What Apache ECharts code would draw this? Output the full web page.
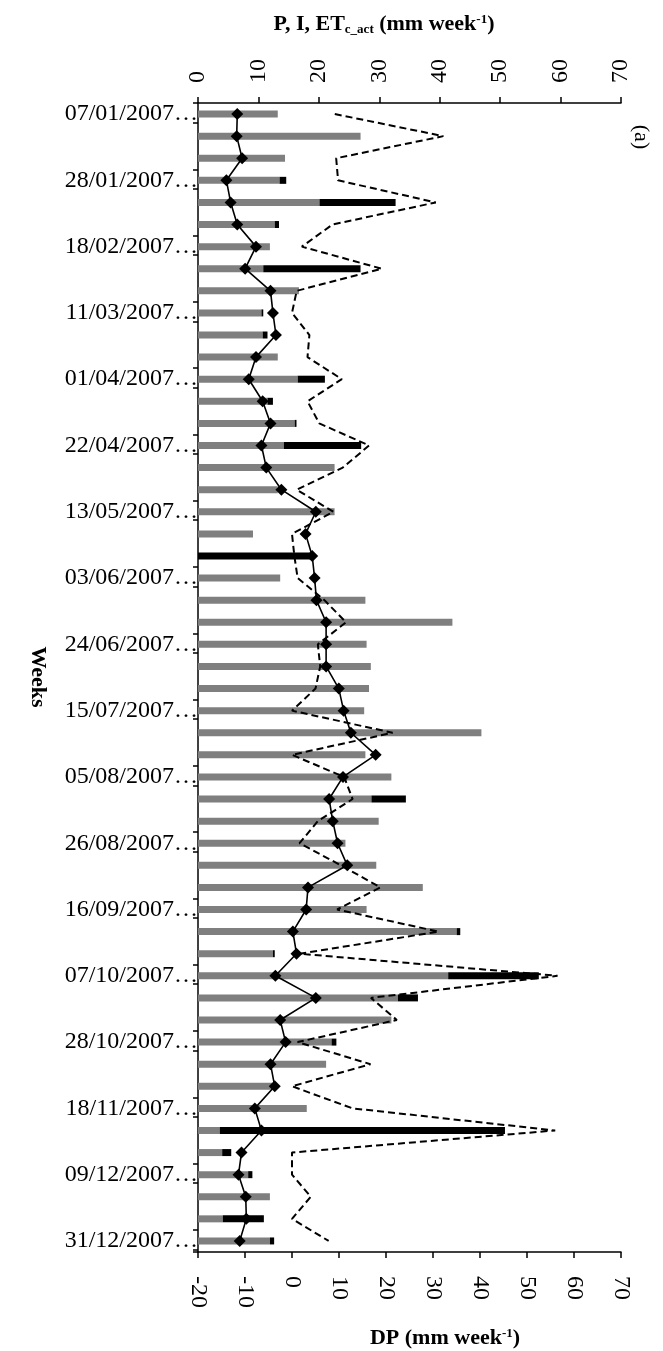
<!DOCTYPE html>
<html><head><meta charset="utf-8">
<script src="https://cdn.jsdelivr.net/npm/echarts@6/dist/echarts.min.js"></script>
<style>html,body{margin:0;padding:0;background:#fff}#c{width:663px;height:1351px}</style>
</head><body><div id="c"></div>
<script>
const weeks = ['07/01/2007','14/01/2007','21/01/2007','28/01/2007','04/02/2007','11/02/2007','18/02/2007','25/02/2007','04/03/2007','11/03/2007','18/03/2007','25/03/2007','01/04/2007','08/04/2007','15/04/2007','22/04/2007','29/04/2007','06/05/2007','13/05/2007','20/05/2007','27/05/2007','03/06/2007','10/06/2007','17/06/2007','24/06/2007','01/07/2007','08/07/2007','15/07/2007','22/07/2007','29/07/2007','05/08/2007','12/08/2007','19/08/2007','26/08/2007','02/09/2007','09/09/2007','16/09/2007','23/09/2007','30/09/2007','07/10/2007','14/10/2007','21/10/2007','28/10/2007','04/11/2007','11/11/2007','18/11/2007','25/11/2007','02/12/2007','09/12/2007','16/12/2007','23/12/2007','31/12/2007'];
// I (grey bars, top axis)
const irrigation = [13.2,26.9,14.4,13.5,20.1,12.7,11.9,10.8,16.7,10.5,10.7,13.2,16.5,11.5,16.0,14.2,22.6,13.2,22.6,9.1,0,13.6,27.7,42.1,27.9,28.6,28.3,27.5,46.9,27.7,32.0,28.7,29.9,24.4,29.5,37.2,27.9,42.8,12.4,41.4,33.1,32.0,22.1,21.2,12.4,18.0,3.6,4.0,8.3,11.9,4.1,11.9];
// P (black bars, stacked, top axis)
const precipitation = [0,0,0,1.1,12.6,0.7,0,16.1,0,0.3,0.8,0,4.5,0.9,0.3,12.8,0,0,0,0,18.9,0,0,0,0,0,0,0,0,0,0,5.7,0,0,0,0,0,0.6,0.3,15.0,3.3,0,0.8,0,0,0,47.2,1.5,0.7,0,6.8,0.7];
// ETc_act (solid line with diamonds, top axis)
const etcAct = [6.5,6.4,7.3,4.7,5.4,6.5,9.6,7.8,12.0,12.4,12.9,9.6,8.4,10.7,12.0,10.5,11.3,13.8,19.5,17.8,18.9,19.3,19.6,21.2,21.2,21.2,23.3,24.1,25.3,29.4,24.0,21.7,22.3,23.1,24.7,18.2,17.9,15.7,16.3,12.8,19.5,13.6,14.5,12.0,12.7,9.4,10.5,7.2,6.7,7.9,8.0,6.9];
// DP (dashed line, bottom axis)
const deepPercolation = [9.1,32.2,9.4,9.8,30.6,8.6,2.1,19.1,1.0,0,3.7,3.3,10.6,3.3,5.8,16.4,10.8,1.0,8.8,0,0.5,1.2,6.9,11.5,5.5,6.0,5.0,0,21.4,0,11.1,12.9,5.5,1.6,10.4,18.8,9.6,31.2,1.6,56.5,16.8,22.3,1.2,16.7,0,12.9,56.0,0,0,4.0,0,7.8];

const FONT = 'Liberation Serif';
const chart = echarts.init(document.getElementById('c'), null, {renderer: 'canvas'});
const axisLineStyle = {color: '#000', width: 1.5};
const extraTicks = Array.from({length: 18}, (_, k) => 3 * k + 0.88);

chart.setOption({
  animation: false,
  backgroundColor: '#fff',
  grid: {left: 198, right: 42, top: 103, bottom: 99, containLabel: false},
  xAxis: [
    {type: 'value', position: 'top', min: 0, max: 70, interval: 10,
     axisLine: {show: true, onZero: false, lineStyle: axisLineStyle},
     axisTick: {show: true, inside: false, length: 6, lineStyle: axisLineStyle},
     axisLabel: {rotate: -90, margin: 20, fontFamily: FONT, fontSize: 24, color: '#000'},
     splitLine: {show: false}},
    {type: 'value', position: 'bottom', min: -20, max: 70, interval: 10,
     axisLine: {show: true, onZero: false, lineStyle: axisLineStyle},
     axisTick: {show: true, inside: false, length: 6, lineStyle: axisLineStyle},
     axisLabel: {rotate: -90, margin: 24, fontFamily: FONT, fontSize: 24, color: '#000'},
     splitLine: {show: false}}
  ],
  yAxis: [
    {type: 'category', data: weeks, inverse: true, position: 'left',
     axisLine: {show: true, onZero: false, lineStyle: axisLineStyle},
     axisTick: {show: true, interval: 2, length: 5, lineStyle: axisLineStyle},
     axisLabel: {interval: 2, margin: 0, fontFamily: FONT, fontSize: 24, color: '#000',
                 formatter: v => v + '…'},
     splitLine: {show: false}},
    {type: 'value', min: 0, max: 52, inverse: true, position: 'left',
     axisLine: {show: false, onZero: false},
     axisTick: {show: true, length: 5, customValues: extraTicks, lineStyle: axisLineStyle},
     axisLabel: {show: false},
     splitLine: {show: false}}
  ],
  series: [
    {name: 'I', type: 'bar', xAxisIndex: 0, yAxisIndex: 0, stack: 'w', data: irrigation,
     barWidth: 7, itemStyle: {color: '#7f7f7f'}, z: 2},
    {name: 'P', type: 'bar', xAxisIndex: 0, yAxisIndex: 0, stack: 'w', data: precipitation,
     barWidth: 7, itemStyle: {color: '#000'}, z: 2},
    {name: 'DP', type: 'line', xAxisIndex: 1, yAxisIndex: 0, data: deepPercolation,
     symbol: 'none', lineStyle: {color: '#000', width: 2, type: [7, 4]}, z: 3},
    {name: 'ETc_act', type: 'line', xAxisIndex: 0, yAxisIndex: 0, data: etcAct,
     symbol: 'diamond', symbolSize: 12, itemStyle: {color: '#000'},
     lineStyle: {color: '#000', width: 1.6}, z: 4}
  ],
  graphic: [
    {type: 'text', x: 384, y: 24, style: {
      text: '{b|P, I, ET}{s|c_act}{b| (mm week}{u|-1}{b|)}',
      textAlign: 'center', textVerticalAlign: 'middle',
      rich: {
        b: {fontFamily: FONT, fontWeight: 'bold', fontSize: 22, lineHeight: 30, verticalAlign: 'middle'},
        s: {fontFamily: FONT, fontWeight: 'bold', fontSize: 13, lineHeight: 30, verticalAlign: 'bottom', padding: [0, 0, 3, 0]},
        u: {fontFamily: FONT, fontWeight: 'bold', fontSize: 13, lineHeight: 30, verticalAlign: 'top', padding: [4, 0, 0, 0]}
      }}},
    {type: 'text', x: 445, y: 1338, style: {
      text: '{b|DP (mm week}{u|-1}{b|)}',
      textAlign: 'center', textVerticalAlign: 'middle',
      rich: {
        b: {fontFamily: FONT, fontWeight: 'bold', fontSize: 22, lineHeight: 30, verticalAlign: 'middle'},
        u: {fontFamily: FONT, fontWeight: 'bold', fontSize: 13, lineHeight: 30, verticalAlign: 'top', padding: [4, 0, 0, 0]}
      }}},
    {type: 'text', x: 38, y: 677, rotation: -Math.PI / 2, style: {
      text: 'Weeks', fontFamily: FONT, fontWeight: 'bold', fontSize: 22,
      textAlign: 'center', textVerticalAlign: 'middle', fill: '#000'}},
    {type: 'text', x: 641, y: 137, rotation: -Math.PI / 2, style: {
      text: '(a)', fontFamily: FONT, fontSize: 22,
      textAlign: 'center', textVerticalAlign: 'middle', fill: '#000'}}
  ]
});
</script>
</body></html>
